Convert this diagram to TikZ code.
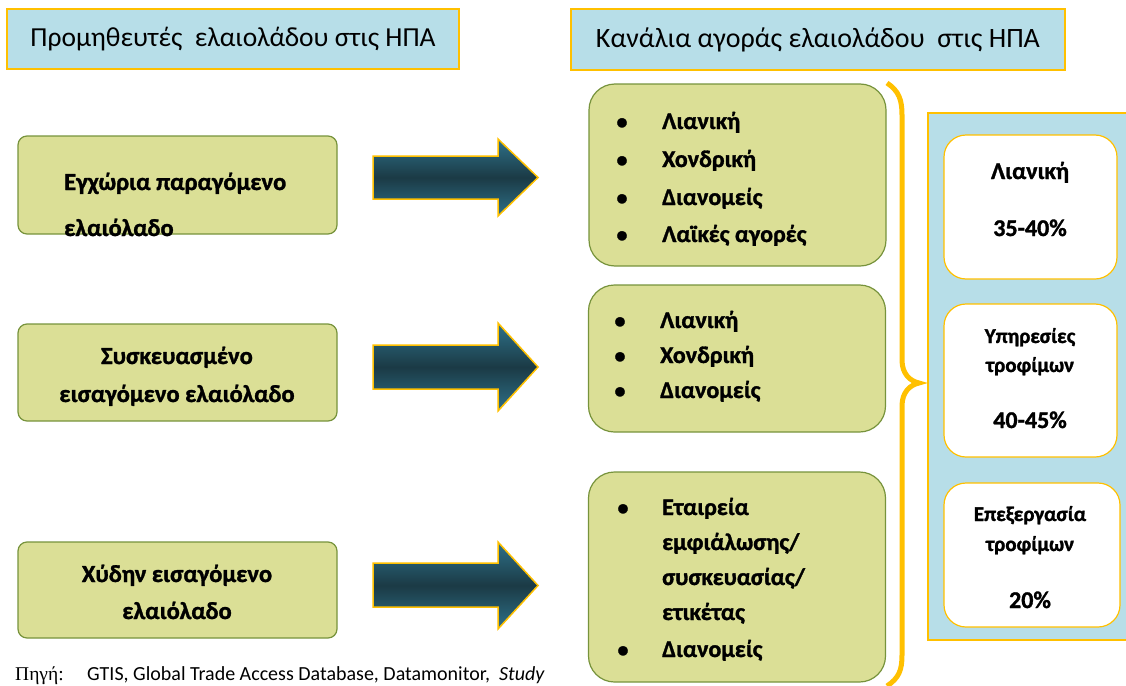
\documentclass[tikz,border=0pt]{standalone}
\usepackage{fontspec}
\setmainfont{Carlito}[BoldFont={Carlito Bold},BoldFeatures={FakeBold=1.3},ItalicFont={Carlito Italic}]
\newfontfamily\grserif{Liberation Serif}
\definecolor{hblue}{HTML}{B7DEE8}
\definecolor{gold}{HTML}{FFC000}
\definecolor{olive}{HTML}{DBDF96}
\definecolor{oliveline}{HTML}{77933C}
\definecolor{arrowlight}{HTML}{2E7189}
\definecolor{arrowdark}{HTML}{1B3A45}
\begin{document}
\begin{tikzpicture}[x=1pt,y=-1pt,
  hdr/.style={draw=gold, line width=1.5pt, fill=hblue, inner sep=0pt},
  srcbox/.style={draw=oliveline, line width=1.2pt, fill=olive, rounded corners=9pt, inner sep=0pt, minimum width=319pt},
  chanbox/.style={draw=oliveline, line width=1.2pt, fill=olive, rounded corners=26pt, inner sep=0pt, minimum width=297pt},
  sharebox/.style={draw=gold, line width=1.2pt, fill=white, rounded corners=22pt, inner sep=0pt},
  panel/.style={draw=gold, line width=1.2pt, fill=hblue},
  lbl/.style={font=\bfseries\fontsize{24.5}{28}\selectfont, inner sep=0pt},
  blt/.style={font=\bfseries\fontsize{24}{28}\selectfont, inner sep=0pt, anchor=base west},
  dot/.style={font=\bfseries\fontsize{22}{26}\selectfont, inner sep=0pt, anchor=base},
  shr/.style={font=\bfseries\fontsize{24}{28}\selectfont, inner sep=0pt, anchor=base},
  shrs/.style={font=\bfseries\fontsize{21}{25}\selectfont, inner sep=0pt, anchor=base},
  bigarrow/.style={draw=gold, line width=1.5pt, top color=arrowlight, bottom color=arrowlight, middle color=arrowdark}
]
\useasboundingbox (0,0) rectangle (1126,685);

% headers
\node[hdr, minimum width=452pt, minimum height=60pt, font=\fontsize{27.5}{31}\selectfont] (h1) at (233,39) {Προμηθευτές\ \ ελαιολάδου στις ΗΠΑ};
\node[hdr, minimum width=494pt, minimum height=61pt, font=\fontsize{28}{32}\selectfont] (h2) at (818,39.5) {Κανάλια αγοράς ελαιολάδου\ \ στις ΗΠΑ};

% source boxes
\node[srcbox, minimum height=98pt] (L1) at (177.5,185) {};
\node[srcbox, minimum height=97pt] (L2) at (177.5,372.5) {};
\node[srcbox, minimum height=96pt] (L3) at (177.5,590) {};

\node[lbl, anchor=base west] (L1a) at (64,190) {Εγχώρια παραγόμενο};
\node[lbl, anchor=base west] (L1b) at (64,236) {ελαιόλαδο};
\node[lbl, anchor=base] (L2a) at (177,364) {Συσκευασμένο};
\node[lbl, anchor=base] (L2b) at (177,402) {εισαγόμενο ελαιόλαδο};
\node[lbl, anchor=base] (L3a) at (177,582) {Χύδην εισαγόμενο};
\node[lbl, anchor=base] (L3b) at (177,619) {ελαιόλαδο};

% block arrows
\shade[bigarrow] (373,156) -- (498,156) -- (498,139) -- (538,177.5) -- (498,216) -- (498,199) -- (373,199) -- cycle;
\shade[bigarrow] (373,345) -- (498,345) -- (498,323) -- (538,367) -- (498,411) -- (498,389) -- (373,389) -- cycle;
\shade[bigarrow] (373,563) -- (498,563) -- (498,542) -- (538,585.5) -- (498,629) -- (498,607) -- (373,607) -- cycle;

% channel boxes
\node[chanbox, minimum height=182pt] (R1) at (737.5,175) {};
\node[chanbox, minimum height=147pt] (R2) at (737,358.5) {};
\node[chanbox, minimum height=210pt] (R3) at (737,577) {};

\foreach \y/\t [count=\i] in {129/{Λιανική},167/{Χονδρική},205/{Διανομείς},242/{Λαϊκές αγορές}}{
  \node[dot] (R1b\i) at (622,\y) {•};
  \node[blt] (R1t\i) at (662,\y) {\t};
}
\foreach \y/\t [count=\i] in {328/{Λιανική},363/{Χονδρική},398/{Διανομείς}}{
  \node[dot] (R2b\i) at (620,\y) {•};
  \node[blt] (R2t\i) at (660,\y) {\t};
}
\foreach \y/\t [count=\i] in {515/{Εταιρεία},550/{εμφιάλωσης/},585/{συσκευασίας/},620/{ετικέτας}}{
  \node[blt] (R3t\i) at (662,\y) {\t};
}
\node[dot] (R3b1) at (623,515) {•};
\node[dot] (R3b2) at (623,657) {•};
\node[blt] (R3t5) at (662,657) {Διανομείς};

% brace
\draw[gold, line width=5pt] (887,83) .. controls (899,91) and (902,100) .. (902,115)
  -- (902,360) .. controls (902,374) and (910,381) .. (919,383)
  .. controls (910,385) and (902,392) .. (902,406)
  -- (902,655) .. controls (902,670) and (899,678) .. (887,686);

% share panel
\node[panel, minimum width=210pt, minimum height=527pt, inner sep=0pt] (P) at (1033,376.5) {};
\node[sharebox, minimum width=173pt, minimum height=144pt] (W1) at (1030.5,207) {};
\node[sharebox, minimum width=173pt, minimum height=153pt] (W2) at (1030.5,380.5) {};
\node[sharebox, minimum width=176pt, minimum height=144pt] (W3) at (1032,555) {};

\node[shr] (W1a) at (1030,179) {Λιανική};
\node[shr] (W1b) at (1030,236) {35-40\%};
\node[shrs] (W2a) at (1030,343) {Υπηρεσίες};
\node[shrs] (W2b) at (1030,372) {τροφίμων};
\node[shr] (W2c) at (1030,428) {40-45\%};
\node[shrs] (W3a) at (1030,521) {Επεξεργασία};
\node[shrs] (W3b) at (1030,551) {τροφίμων};
\node[shr] (W3c) at (1030,608) {20\%};

% source line
\node[inner sep=0pt, anchor=base west, font=\grserif\fontsize{19.5}{22}\selectfont] (src1) at (15,680) {Πηγή:};
\node[inner sep=0pt, anchor=base west, font=\fontsize{20}{23}\selectfont] (src2) at (87,680) {GTIS, Global Trade Access Database, Datamonitor,\ \ \textit{Study}};
\end{tikzpicture}
\end{document}
